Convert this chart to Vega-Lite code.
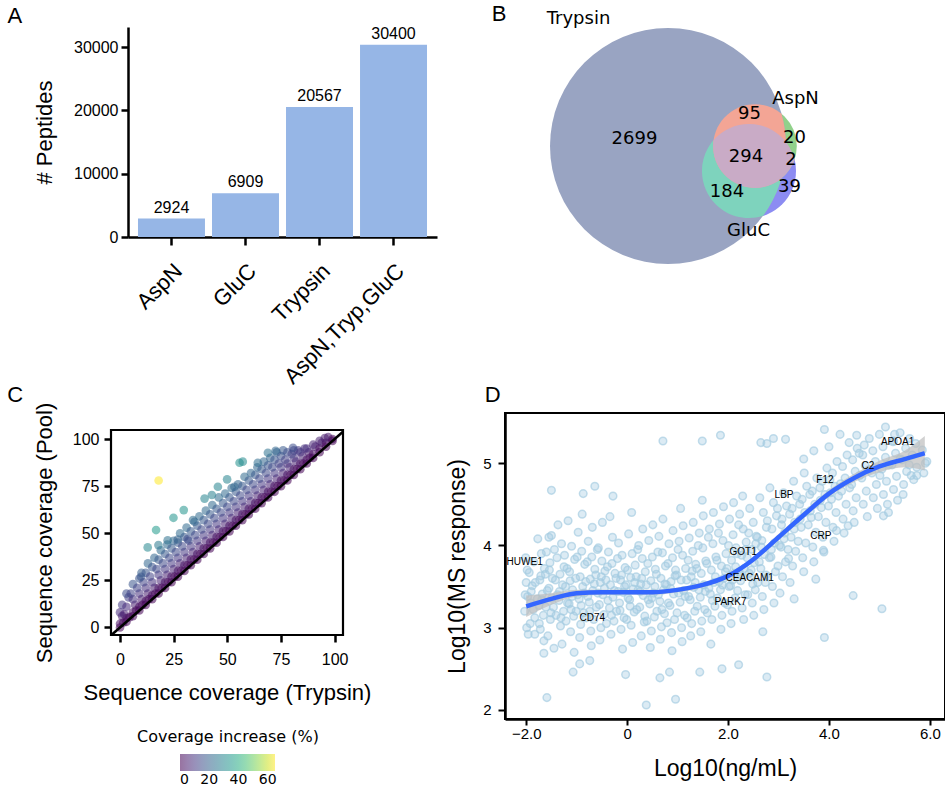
{
"$schema": "https://vega.github.io/schema/vega-lite/v6.json",
"background": "white",
"padding": {"left": 7, "top": 3, "right": 0, "bottom": 0},
"config": {
  "view": {"stroke": null},
  "font": "Liberation Sans",
  "axis": {"grid": false, "domain": true, "domainColor": "black", "tickColor": "black", "labelColor": "black", "titleColor": "black", "titleFontWeight": "normal", "labelFont": "Liberation Sans", "titleFont": "Liberation Sans", "labelOverlap": false},
  "title": {"font": "Liberation Sans", "fontWeight": "normal", "fontSize": 22, "color": "black"}
},
"datasets": {
  "venn": [
    {"set": "GluC", "x": 244, "y": 144, "n": 519},
    {"set": "AspN", "x": 250, "y": 119, "n": 411},
    {"set": "Trypsin", "x": 163, "y": 119, "n": 3272}
  ],
  "curve": [
    {"x": -2.0, "y": 3.26, "lo": 3.13, "hi": 3.39},
    {"x": -1.5, "y": 3.35, "lo": 3.28, "hi": 3.42},
    {"x": -1.0, "y": 3.42, "lo": 3.38, "hi": 3.46},
    {"x": -0.5, "y": 3.43, "lo": 3.40, "hi": 3.46},
    {"x": 0.0, "y": 3.43, "lo": 3.40, "hi": 3.46},
    {"x": 0.5, "y": 3.43, "lo": 3.40, "hi": 3.46},
    {"x": 1.0, "y": 3.46, "lo": 3.43, "hi": 3.49},
    {"x": 1.5, "y": 3.52, "lo": 3.49, "hi": 3.55},
    {"x": 2.0, "y": 3.63, "lo": 3.60, "hi": 3.66},
    {"x": 2.5, "y": 3.83, "lo": 3.80, "hi": 3.86},
    {"x": 3.0, "y": 4.10, "lo": 4.06, "hi": 4.14},
    {"x": 3.5, "y": 4.37, "lo": 4.33, "hi": 4.41},
    {"x": 4.0, "y": 4.63, "lo": 4.59, "hi": 4.67},
    {"x": 4.5, "y": 4.82, "lo": 4.77, "hi": 4.87},
    {"x": 5.0, "y": 4.96, "lo": 4.89, "hi": 5.03},
    {"x": 5.5, "y": 5.05, "lo": 4.95, "hi": 5.15},
    {"x": 5.9, "y": 5.12, "lo": 4.91, "hi": 5.33}
  ]
},
"spacing": 8,
"hconcat": [
  {
    "vconcat": [
      {
        "title": {"text": "A", "anchor": "start", "frame": "bounds", "dx": -26, "offset": -2},
        "width": 309, "height": 210,
        "data": {"values": [
          {"digest": "AspN", "n": 2924},
          {"digest": "GluC", "n": 6909},
          {"digest": "Trypsin", "n": 20567},
          {"digest": "AspN,Tryp,GluC", "n": 30400}
        ]},
        "encoding": {
          "x": {"field": "digest", "type": "nominal", "sort": null, "scale": {"paddingInner": 0.095, "paddingOuter": 0.135},
                "axis": {"title": null, "domain": true, "labelAngle": -45, "labelAlign": "right", "labelBaseline": "top", "labelFontSize": 22, "labelPadding": 15, "tickSize": 8, "tickWidth": 2.5, "domainWidth": 2.5, "labelLimit": 0}},
          "y": {"field": "n", "type": "quantitative", "scale": {"domain": [0, 33200], "nice": false, "zero": true},
                "axis": {"title": "# Peptides", "domain": true, "domainColor": "black", "titleFontSize": 22, "titlePadding": 17, "values": [0, 10000, 20000, 30000], "format": "d", "labelFontSize": 16, "tickSize": 7, "tickWidth": 2.5, "domainWidth": 2.5, "labelPadding": 3}}
        },
        "layer": [
          {"mark": {"type": "bar", "color": "#96B6E6"}},
          {"mark": {"type": "text", "baseline": "bottom", "dy": -3, "fontSize": 16, "color": "black"},
           "encoding": {"text": {"field": "n", "type": "quantitative", "format": "d"}}}
        ]
      },
      {
        "title": {"text": "C", "anchor": "start", "frame": "bounds", "dx": -26, "offset": -5},
        "width": 215, "height": 205,
        "layer": [
          {
            "data": {"values": [
              {"t":0,"p":0,"inc":0},{"t":0,"p":2,"inc":2},{"t":1,"p":6,"inc":5},{"t":0,"p":8,"inc":8},{"t":1,"p":12,"inc":11},
              {"t":3,"p":3,"inc":0},{"t":3,"p":5,"inc":2},{"t":2,"p":7,"inc":5},{"t":3,"p":11,"inc":8},{"t":4,"p":16,"inc":12},{"t":3,"p":18,"inc":15},
              {"t":6,"p":6,"inc":0},{"t":6,"p":8,"inc":2},{"t":7,"p":12,"inc":5},{"t":6,"p":15,"inc":9},{"t":5,"p":18,"inc":13},{"t":6,"p":23,"inc":17},
              {"t":9,"p":9,"inc":0},{"t":9,"p":11,"inc":2},{"t":10,"p":15,"inc":5},{"t":9,"p":18,"inc":9},{"t":8,"p":21,"inc":13},{"t":9,"p":26,"inc":17},{"t":10,"p":29,"inc":19},
              {"t":12,"p":12,"inc":0},{"t":12,"p":14,"inc":2},{"t":13,"p":18,"inc":5},{"t":12,"p":21,"inc":9},{"t":11,"p":24,"inc":13},{"t":12,"p":29,"inc":17},{"t":13,"p":34,"inc":21},
              {"t":15,"p":15,"inc":0},{"t":15,"p":17,"inc":2},{"t":16,"p":21,"inc":5},{"t":15,"p":24,"inc":9},{"t":14,"p":27,"inc":13},{"t":15,"p":32,"inc":17},{"t":16,"p":37,"inc":21},
              {"t":18,"p":18,"inc":0},{"t":18,"p":21,"inc":3},{"t":19,"p":25,"inc":6},{"t":18,"p":28,"inc":10},{"t":17,"p":31,"inc":14},{"t":18,"p":36,"inc":18},{"t":19,"p":41,"inc":22},
              {"t":21,"p":21,"inc":0},{"t":21,"p":24,"inc":3},{"t":22,"p":28,"inc":6},{"t":21,"p":31,"inc":10},{"t":20,"p":34,"inc":14},{"t":21,"p":39,"inc":18},{"t":22,"p":44,"inc":22},
              {"t":24,"p":24,"inc":0},{"t":24,"p":27,"inc":3},{"t":25,"p":31,"inc":6},{"t":24,"p":34,"inc":10},{"t":23,"p":37,"inc":14},{"t":24,"p":42,"inc":18},{"t":25,"p":46,"inc":21},
              {"t":27,"p":27,"inc":0},{"t":27,"p":30,"inc":3},{"t":28,"p":34,"inc":6},{"t":27,"p":37,"inc":10},{"t":26,"p":40,"inc":14},{"t":27,"p":45,"inc":18},{"t":28,"p":50,"inc":22},
              {"t":30,"p":30,"inc":0},{"t":30,"p":33,"inc":3},{"t":31,"p":37,"inc":6},{"t":30,"p":40,"inc":10},{"t":29,"p":43,"inc":14},{"t":30,"p":48,"inc":18},{"t":31,"p":53,"inc":22},
              {"t":33,"p":33,"inc":0},{"t":33,"p":36,"inc":3},{"t":34,"p":40,"inc":6},{"t":33,"p":43,"inc":10},{"t":32,"p":46,"inc":14},{"t":33,"p":51,"inc":18},{"t":34,"p":57,"inc":23},
              {"t":36,"p":36,"inc":0},{"t":36,"p":39,"inc":3},{"t":37,"p":43,"inc":6},{"t":36,"p":46,"inc":10},{"t":35,"p":49,"inc":14},{"t":36,"p":54,"inc":18},{"t":37,"p":59,"inc":22},
              {"t":39,"p":39,"inc":0},{"t":39,"p":42,"inc":3},{"t":40,"p":46,"inc":6},{"t":39,"p":49,"inc":10},{"t":38,"p":52,"inc":14},{"t":39,"p":57,"inc":18},{"t":40,"p":62,"inc":22},
              {"t":42,"p":42,"inc":0},{"t":42,"p":45,"inc":3},{"t":43,"p":49,"inc":6},{"t":42,"p":52,"inc":10},{"t":41,"p":55,"inc":14},{"t":42,"p":60,"inc":18},{"t":43,"p":65,"inc":22},
              {"t":45,"p":45,"inc":0},{"t":45,"p":48,"inc":3},{"t":46,"p":52,"inc":6},{"t":45,"p":55,"inc":10},{"t":44,"p":58,"inc":14},{"t":45,"p":63,"inc":18},{"t":46,"p":69,"inc":23},
              {"t":48,"p":48,"inc":0},{"t":48,"p":51,"inc":3},{"t":49,"p":55,"inc":6},{"t":48,"p":58,"inc":10},{"t":47,"p":61,"inc":14},{"t":48,"p":66,"inc":18},{"t":49,"p":71,"inc":22},
              {"t":51,"p":51,"inc":0},{"t":51,"p":54,"inc":3},{"t":52,"p":58,"inc":6},{"t":51,"p":61,"inc":10},{"t":50,"p":64,"inc":14},{"t":51,"p":69,"inc":18},{"t":52,"p":74,"inc":22},
              {"t":54,"p":54,"inc":0},{"t":54,"p":57,"inc":3},{"t":55,"p":61,"inc":6},{"t":54,"p":64,"inc":10},{"t":53,"p":67,"inc":14},{"t":54,"p":72,"inc":18},{"t":55,"p":76,"inc":21},
              {"t":57,"p":57,"inc":0},{"t":57,"p":60,"inc":3},{"t":58,"p":64,"inc":6},{"t":57,"p":67,"inc":10},{"t":56,"p":70,"inc":14},{"t":57,"p":75,"inc":18},{"t":58,"p":80,"inc":22},
              {"t":60,"p":60,"inc":0},{"t":60,"p":63,"inc":3},{"t":61,"p":67,"inc":6},{"t":60,"p":70,"inc":10},{"t":59,"p":73,"inc":14},{"t":60,"p":78,"inc":18},{"t":61,"p":82,"inc":21},
              {"t":63,"p":63,"inc":0},{"t":63,"p":66,"inc":3},{"t":64,"p":70,"inc":6},{"t":63,"p":73,"inc":10},{"t":62,"p":76,"inc":14},{"t":63,"p":81,"inc":18},{"t":64,"p":85,"inc":21},
              {"t":66,"p":66,"inc":0},{"t":66,"p":69,"inc":3},{"t":67,"p":73,"inc":6},{"t":66,"p":76,"inc":10},{"t":65,"p":79,"inc":14},{"t":66,"p":84,"inc":18},{"t":67,"p":88,"inc":21},
              {"t":69,"p":69,"inc":0},{"t":69,"p":72,"inc":3},{"t":70,"p":76,"inc":6},{"t":69,"p":79,"inc":10},{"t":68,"p":82,"inc":14},{"t":69,"p":86,"inc":17},{"t":70,"p":90,"inc":20},
              {"t":72,"p":72,"inc":0},{"t":72,"p":75,"inc":3},{"t":73,"p":79,"inc":6},{"t":72,"p":82,"inc":10},{"t":71,"p":85,"inc":14},{"t":72,"p":89,"inc":17},{"t":73,"p":93,"inc":20},
              {"t":75,"p":75,"inc":0},{"t":75,"p":78,"inc":3},{"t":76,"p":82,"inc":6},{"t":75,"p":85,"inc":10},{"t":74,"p":87,"inc":13},{"t":75,"p":91,"inc":16},{"t":76,"p":94,"inc":18},
              {"t":78,"p":78,"inc":0},{"t":78,"p":81,"inc":3},{"t":79,"p":85,"inc":6},{"t":78,"p":87,"inc":9},{"t":77,"p":89,"inc":12},{"t":78,"p":93,"inc":15},
              {"t":81,"p":81,"inc":0},{"t":81,"p":84,"inc":3},{"t":82,"p":88,"inc":6},{"t":81,"p":90,"inc":9},{"t":80,"p":92,"inc":12},{"t":81,"p":94,"inc":13},
              {"t":84,"p":84,"inc":0},{"t":84,"p":87,"inc":3},{"t":85,"p":91,"inc":6},{"t":84,"p":93,"inc":9},{"t":83,"p":94,"inc":11},
              {"t":87,"p":87,"inc":0},{"t":87,"p":89,"inc":2},{"t":88,"p":93,"inc":5},{"t":87,"p":95,"inc":8},{"t":86,"p":95,"inc":9},
              {"t":90,"p":90,"inc":0},{"t":90,"p":92,"inc":2},{"t":91,"p":96,"inc":5},{"t":90,"p":97,"inc":7},
              {"t":93,"p":93,"inc":0},{"t":93,"p":95,"inc":2},{"t":94,"p":98,"inc":4},{"t":93,"p":99,"inc":6},
              {"t":96,"p":96,"inc":0},{"t":96,"p":98,"inc":2},{"t":97,"p":101,"inc":4},
              {"t":99,"p":99,"inc":0},{"t":99,"p":100,"inc":1},
              {"t":1.5,"p":2.5,"inc":1},{"t":4.5,"p":5.5,"inc":1},{"t":7.5,"p":9,"inc":1},{"t":10.5,"p":12,"inc":1},{"t":13.5,"p":15,"inc":1},{"t":16.5,"p":18,"inc":1},
              {"t":19.5,"p":21,"inc":1},{"t":22.5,"p":24,"inc":1},{"t":25.5,"p":27,"inc":1},{"t":28.5,"p":30,"inc":1},{"t":31.5,"p":33,"inc":1},{"t":34.5,"p":36,"inc":1},
              {"t":37.5,"p":39,"inc":1},{"t":40.5,"p":42,"inc":1},{"t":43.5,"p":45,"inc":1},{"t":46.5,"p":48,"inc":1},{"t":49.5,"p":51,"inc":1},{"t":52.5,"p":54,"inc":1},
              {"t":55.5,"p":57,"inc":1},{"t":58.5,"p":60,"inc":1},{"t":61.5,"p":63,"inc":1},{"t":64.5,"p":66,"inc":1},{"t":67.5,"p":69,"inc":1},{"t":70.5,"p":72,"inc":1},
              {"t":73.5,"p":75,"inc":1},{"t":76.5,"p":78,"inc":1},{"t":79.5,"p":81,"inc":1},{"t":82.5,"p":84,"inc":1},{"t":85.5,"p":87,"inc":1},{"t":88.5,"p":90,"inc":1},
              {"t":55.7,"p":87.4,"inc":32},{"t":57.2,"p":88,"inc":31},{"t":49.9,"p":78.6,"inc":29},{"t":42.8,"p":70.3,"inc":28},
              {"t":39.4,"p":68.4,"inc":29},{"t":29.7,"p":62.3,"inc":33},{"t":24.9,"p":58.2,"inc":33},{"t":16.8,"p":51.7,"inc":35},
              {"t":12.9,"p":42.5,"inc":30},{"t":17.9,"p":43.7,"inc":26},{"t":22.2,"p":46.3,"inc":24},{"t":26.9,"p":46.7,"inc":20},
              {"t":31.5,"p":46.9,"inc":15},{"t":9.8,"p":26.9,"inc":17},{"t":34.7,"p":56.1,"inc":21},{"t":45.6,"p":74.7,"inc":29},
              {"t":53.3,"p":74.7,"inc":21},{"t":64.2,"p":87.4,"inc":23},{"t":68.9,"p":92.7,"inc":24},{"t":72.5,"p":93.8,"inc":21},
              {"t":80.6,"p":95.4,"inc":15},{"t":95.4,"p":100.5,"inc":5},
              {"t":18,"p":78,"inc":65}
            ]},
            "mark": {"type": "circle", "size": 75, "opacity": 0.55},
            "encoding": {
              "x": {"field": "t", "type": "quantitative", "scale": {"domain": [-4.2, 103.9], "range": [-17, 215], "nice": false, "zero": false},
                    "axis": {"title": "Sequence coverage (Trypsin)", "titleX": 99, "domain": false, "values": [0, 25, 50, 75, 100], "labelFontSize": 16, "titleFontSize": 22, "tickSize": 7, "tickWidth": 2.5, "labelPadding": 9, "titlePadding": 15}},
              "y": {"field": "p", "type": "quantitative", "scale": {"domain": [-4.0, 104.8], "nice": false, "zero": false},
                    "axis": {"title": "Sequence coverage (Pool)", "offset": 17, "domain": false, "values": [0, 25, 50, 75, 100], "labelFontSize": 16, "titleFontSize": 22, "tickSize": 7, "tickWidth": 2.5, "labelPadding": 5, "titlePadding": 16}},
              "color": {"field": "inc", "type": "quantitative", "scale": {"scheme": "viridis", "domain": [0, 65]},
                        "legend": {"orient": "none", "legendX": 9, "legendY": 299, "direction": "horizontal", "title": "Coverage increase (%)", "titleLimit": 400, "titleFont": "DejaVu Sans", "titleFontSize": 16, "titleFontWeight": "normal", "titleAnchor": "middle", "titleColor": "black", "labelFont": "DejaVu Sans", "labelFontSize": 14, "labelColor": "black", "gradientLength": 95, "gradientThickness": 17, "values": [0, 20, 40, 60], "gradientStrokeWidth": 0, "titlePadding": 9, "labelOffset": 2, "padding": 0}}
            }
          },
          {
            "data": {"values": [{"a": -4, "b": 104}]},
            "mark": {"type": "rule", "strokeWidth": 2.5, "color": "black"},
            "encoding": {
              "x": {"field": "a", "type": "quantitative"},
              "y": {"field": "a", "type": "quantitative"},
              "x2": {"field": "b"},
              "y2": {"field": "b"}
            }
          },
          {
            "data": {"values": [{"x1": -4.2, "x2": 103.9, "y1": -4.0, "y2": 104.8}]},
            "mark": {"type": "rect", "fillOpacity": 0, "stroke": "black", "strokeWidth": 2.2},
            "encoding": {
              "x": {"field": "x1", "type": "quantitative"},
              "x2": {"field": "x2"},
              "y": {"field": "y1", "type": "quantitative"},
              "y2": {"field": "y2"}
            }
          }
        ]
      }
    ],
    "spacing": -4,
    "resolve": {"scale": {"color": "independent"}, "legend": {"color": "independent"}}
  },
  {
    "vconcat": [
      {
        "title": {"text": "B", "orient": "left", "anchor": "end", "frame": "group", "angle": 0, "align": "right", "baseline": "top", "offset": 0, "dx": 16, "dy": -23},
        "width": 440, "height": 240,
        "encoding": {
          "x": {"field": "x", "type": "quantitative", "scale": {"domain": [0, 440], "nice": false, "zero": false}, "axis": null},
          "y": {"field": "y", "type": "quantitative", "scale": {"domain": [0, 240], "nice": false, "zero": false, "reverse": true}, "axis": null}
        },
        "layer": [
          {
            "data": {"name": "venn"},
            "mark": {"type": "point", "shape": "circle", "filled": true, "opacity": 1, "strokeWidth": 0},
            "encoding": {
              "size": {"field": "n", "type": "quantitative", "scale": {"type": "linear", "domain": [0, 3272], "range": [0, 55693], "zero": true}, "legend": null},
              "color": {"field": "set", "type": "nominal", "scale": {"domain": ["GluC", "AspN", "Trypsin"], "range": ["#8C8CF2", "#91D18B", "#99A4C2"]}, "legend": null}
            }
          },
          {
            "data": {"name": "venn"},
            "transform": [{"filter": "datum.set === 'GluC'"}],
            "mark": {"type": "point", "shape": "M 0.301 0.953 A 1 1 0 1 1 0.786 -0.618 A 2.511 2.511 0 0 1 0.301 0.953 Z", "filled": true, "color": "#7ED3BD", "opacity": 1, "strokeWidth": 0},
            "encoding": {"size": {"field": "n", "type": "quantitative", "legend": null}}
          },
          {
            "data": {"name": "venn"},
            "transform": [{"filter": "datum.set === 'AspN'"}],
            "mark": {"type": "point", "shape": "M 0.634 0.773 A 1 1 0 1 1 0.634 -0.773 A 2.823 2.823 0 0 1 0.634 0.773 Z", "filled": true, "color": "#F3A595", "opacity": 1, "strokeWidth": 0},
            "encoding": {"size": {"field": "n", "type": "quantitative", "legend": null}}
          },
          {
            "data": {"name": "venn"},
            "transform": [{"filter": "datum.set === 'AspN'"}],
            "mark": {"type": "point", "shape": "M -0.990 -0.142 A 1 1 0 0 0 0.947 0.322 A 1.124 1.124 0 0 0 -0.990 -0.142 Z", "filled": true, "color": "#C9ABC6", "opacity": 1, "strokeWidth": 0},
            "encoding": {"size": {"field": "n", "type": "quantitative", "legend": null}}
          },
          {
            "data": {"values": [
              {"t": "Trypsin", "x": 73.5, "y": -8.5},
              {"t": "AspN", "x": 290.5, "y": 71.5},
              {"t": "GluC", "x": 243.5, "y": 203.5},
              {"t": "2699", "x": 129.5, "y": 112},
              {"t": "95", "x": 244.5, "y": 86.5},
              {"t": "20", "x": 289.5, "y": 111},
              {"t": "294", "x": 241, "y": 130},
              {"t": "2", "x": 286, "y": 132.5},
              {"t": "39", "x": 284.5, "y": 159.5},
              {"t": "184", "x": 222, "y": 164.5}
            ]},
            "mark": {"type": "text", "font": "DejaVu Sans", "fontSize": 18, "color": "black"},
            "encoding": {"text": {"field": "t", "type": "nominal"}}
          }
        ]
      },
      {
        "title": {"text": "D", "anchor": "start", "frame": "bounds", "dx": 38, "offset": 6},
        "width": 440, "height": 306,
        "view": {"stroke": "black", "strokeWidth": 2},
        "encoding": {
          "x": {"field": "x", "type": "quantitative", "scale": {"domain": [-2.42, 6.3], "nice": false, "zero": false},
                "axis": {"title": "Log10(ng/mL)", "domain": true, "values": [-2, 0, 2, 4, 6], "labelExpr": "datum.value == 0 ? '0' : format(datum.value, '.1f')", "labelFontSize": 15, "titleFontSize": 23, "tickSize": 6, "tickWidth": 2, "domainWidth": 2.5, "labelPadding": 1, "titlePadding": 16}},
          "y": {"field": "y", "type": "quantitative", "scale": {"domain": [1.89, 5.61], "nice": false, "zero": false},
                "axis": {"title": "Log10(MS response)", "domain": true, "values": [2, 3, 4, 5], "labelFontSize": 15, "titleFontSize": 23, "tickSize": 7, "tickWidth": 2, "domainWidth": 2.5, "labelPadding": 7, "titlePadding": 13}}
        },
        "layer": [
          {
            "data": {"values": [
              {"x":-1.92,"y":3.05},{"x":-1.86,"y":3.22},{"x":-1.97,"y":3.38},{"x":-1.88,"y":3.51},{"x":-1.94,"y":3.67},{"x":-1.83,"y":3.12},{"x":-1.9,"y":3.44},{"x":-1.96,"y":2.92},{"x":-1.85,"y":3.80},{"x":-1.91,"y":3.30},
              {"x":-2.02,"y":3.40},{"x":-2.0,"y":3.55},{"x":-1.98,"y":3.70},{"x":-2.03,"y":3.20},{"x":-1.99,"y":3.00},{"x":-2.01,"y":3.85},
              {"x":-1.72,"y":2.98},{"x":-1.66,"y":3.15},{"x":-1.75,"y":3.27},{"x":-1.68,"y":3.41},{"x":-1.73,"y":3.58},{"x":-1.64,"y":3.72},{"x":-1.7,"y":3.90},{"x":-1.77,"y":4.08},{"x":-1.69,"y":3.34},{"x":-1.74,"y":3.05},{"x":-1.65,"y":2.84},{"x":-1.71,"y":3.63},
              {"x":-1.52,"y":3.10},{"x":-1.46,"y":3.25},{"x":-1.55,"y":3.48},{"x":-1.48,"y":3.60},{"x":-1.53,"y":3.79},{"x":-1.44,"y":3.95},{"x":-1.5,"y":4.12},{"x":-1.57,"y":2.90},{"x":-1.49,"y":3.36},{"x":-1.54,"y":3.70},{"x":-1.45,"y":2.75},{"x":-1.51,"y":3.18},
              {"x":-1.32,"y":3.02},{"x":-1.26,"y":3.20},{"x":-1.35,"y":3.33},{"x":-1.28,"y":3.52},{"x":-1.33,"y":3.65},{"x":-1.24,"y":3.88},{"x":-1.3,"y":4.02},{"x":-1.37,"y":4.25},{"x":-1.29,"y":2.80},{"x":-1.34,"y":3.44},{"x":-1.25,"y":3.74},{"x":-1.31,"y":3.12},
              {"x":-1.12,"y":2.95},{"x":-1.06,"y":3.14},{"x":-1.15,"y":3.29},{"x":-1.08,"y":3.46},{"x":-1.13,"y":3.57},{"x":-1.04,"y":3.83},{"x":-1.1,"y":3.99},{"x":-1.17,"y":4.30},{"x":-1.09,"y":3.38},{"x":-1.14,"y":3.68},{"x":-1.05,"y":2.70},{"x":-1.11,"y":3.22},
              {"x":-0.92,"y":3.04},{"x":-0.86,"y":3.18},{"x":-0.95,"y":3.35},{"x":-0.88,"y":3.50},{"x":-0.93,"y":3.62},{"x":-0.84,"y":3.77},{"x":-0.9,"y":3.93},{"x":-0.97,"y":4.16},{"x":-0.89,"y":4.38},{"x":-0.94,"y":2.88},{"x":-0.85,"y":3.42},{"x":-0.91,"y":3.27},
              {"x":-0.72,"y":2.96},{"x":-0.66,"y":3.10},{"x":-0.75,"y":3.31},{"x":-0.68,"y":3.45},{"x":-0.73,"y":3.59},{"x":-0.64,"y":3.71},{"x":-0.7,"y":3.86},{"x":-0.77,"y":4.05},{"x":-0.69,"y":4.22},{"x":-0.74,"y":3.20},{"x":-0.65,"y":3.53},{"x":-0.71,"y":2.78},
              {"x":-0.52,"y":3.00},{"x":-0.46,"y":3.16},{"x":-0.55,"y":3.28},{"x":-0.48,"y":3.40},{"x":-0.53,"y":3.55},{"x":-0.44,"y":3.69},{"x":-0.5,"y":3.81},{"x":-0.57,"y":3.97},{"x":-0.49,"y":4.28},{"x":-0.54,"y":2.85},{"x":-0.45,"y":3.48},{"x":-0.51,"y":3.62},
              {"x":-0.32,"y":2.92},{"x":-0.26,"y":3.08},{"x":-0.35,"y":3.24},{"x":-0.28,"y":3.37},{"x":-0.33,"y":3.52},{"x":-0.24,"y":3.66},{"x":-0.3,"y":3.78},{"x":-0.37,"y":3.92},{"x":-0.29,"y":4.10},{"x":-0.34,"y":4.35},{"x":-0.25,"y":3.45},{"x":-0.31,"y":3.15},
              {"x":-0.12,"y":2.98},{"x":-0.06,"y":3.12},{"x":-0.15,"y":3.30},{"x":-0.08,"y":3.43},{"x":-0.13,"y":3.58},{"x":-0.04,"y":3.73},{"x":-0.1,"y":3.88},{"x":-0.17,"y":4.03},{"x":-0.09,"y":2.74},{"x":-0.14,"y":3.21},{"x":-0.05,"y":3.50},{"x":-0.11,"y":3.64},
              {"x":0.08,"y":3.03},{"x":0.14,"y":3.19},{"x":0.05,"y":3.34},{"x":0.12,"y":3.47},{"x":0.07,"y":3.61},{"x":0.16,"y":3.76},{"x":0.1,"y":3.90},{"x":0.03,"y":4.14},{"x":0.11,"y":2.82},{"x":0.06,"y":3.26},{"x":0.15,"y":3.55},{"x":0.09,"y":4.40},
              {"x":0.28,"y":2.90},{"x":0.34,"y":3.07},{"x":0.25,"y":3.25},{"x":0.32,"y":3.39},{"x":0.27,"y":3.53},{"x":0.36,"y":3.68},{"x":0.3,"y":3.84},{"x":0.23,"y":4.00},{"x":0.31,"y":4.20},{"x":0.26,"y":3.44},{"x":0.35,"y":3.14},{"x":0.29,"y":3.60},
              {"x":0.48,"y":2.96},{"x":0.54,"y":3.13},{"x":0.45,"y":3.29},{"x":0.52,"y":3.42},{"x":0.47,"y":3.57},{"x":0.56,"y":3.71},{"x":0.5,"y":3.86},{"x":0.43,"y":4.06},{"x":0.51,"y":4.25},{"x":0.46,"y":2.76},{"x":0.55,"y":3.50},{"x":0.49,"y":3.36},
              {"x":0.68,"y":3.01},{"x":0.74,"y":3.17},{"x":0.65,"y":3.32},{"x":0.72,"y":3.46},{"x":0.67,"y":3.60},{"x":0.76,"y":3.75},{"x":0.7,"y":3.91},{"x":0.63,"y":4.11},{"x":0.71,"y":4.32},{"x":0.66,"y":2.86},{"x":0.75,"y":3.53},{"x":0.69,"y":3.22},
              {"x":0.88,"y":2.94},{"x":0.94,"y":3.10},{"x":0.85,"y":3.27},{"x":0.92,"y":3.41},{"x":0.87,"y":3.56},{"x":0.96,"y":3.70},{"x":0.9,"y":3.85},{"x":0.83,"y":4.02},{"x":0.91,"y":4.18},{"x":0.86,"y":3.48},{"x":0.95,"y":3.63},{"x":0.89,"y":2.72},
              {"x":1.08,"y":3.00},{"x":1.14,"y":3.15},{"x":1.05,"y":3.31},{"x":1.12,"y":3.45},{"x":1.07,"y":3.58},{"x":1.16,"y":3.72},{"x":1.1,"y":3.88},{"x":1.03,"y":4.05},{"x":1.11,"y":4.24},{"x":1.06,"y":4.45},{"x":1.15,"y":3.38},{"x":1.09,"y":2.83},
              {"x":1.28,"y":3.05},{"x":1.34,"y":3.20},{"x":1.25,"y":3.34},{"x":1.32,"y":3.49},{"x":1.27,"y":3.62},{"x":1.36,"y":3.77},{"x":1.3,"y":3.93},{"x":1.23,"y":4.09},{"x":1.31,"y":4.28},{"x":1.26,"y":2.90},{"x":1.35,"y":3.55},{"x":1.29,"y":3.69},
              {"x":1.48,"y":3.08},{"x":1.54,"y":3.22},{"x":1.45,"y":3.37},{"x":1.52,"y":3.52},{"x":1.47,"y":3.66},{"x":1.56,"y":3.81},{"x":1.5,"y":3.97},{"x":1.43,"y":4.15},{"x":1.51,"y":4.36},{"x":1.46,"y":2.95},{"x":1.55,"y":3.44},{"x":1.49,"y":4.55},
              {"x":1.68,"y":3.10},{"x":1.74,"y":3.26},{"x":1.65,"y":3.41},{"x":1.72,"y":3.55},{"x":1.67,"y":3.70},{"x":1.76,"y":3.86},{"x":1.7,"y":4.02},{"x":1.63,"y":4.20},{"x":1.71,"y":4.40},{"x":1.66,"y":2.80},{"x":1.75,"y":3.62},{"x":1.69,"y":3.33},
              {"x":1.88,"y":3.15},{"x":1.94,"y":3.30},{"x":1.85,"y":3.46},{"x":1.92,"y":3.60},{"x":1.87,"y":3.75},{"x":1.96,"y":3.90},{"x":1.9,"y":4.06},{"x":1.83,"y":4.26},{"x":1.91,"y":4.47},{"x":1.86,"y":2.98},{"x":1.95,"y":3.68},{"x":1.89,"y":3.52},
              {"x":2.08,"y":3.20},{"x":2.14,"y":3.36},{"x":2.05,"y":3.51},{"x":2.12,"y":3.66},{"x":2.07,"y":3.82},{"x":2.16,"y":3.97},{"x":2.1,"y":4.13},{"x":2.03,"y":4.32},{"x":2.11,"y":4.52},{"x":2.06,"y":3.05},{"x":2.15,"y":3.74},{"x":2.09,"y":3.58},
              {"x":2.28,"y":3.24},{"x":2.34,"y":3.40},{"x":2.25,"y":3.57},{"x":2.32,"y":3.72},{"x":2.27,"y":3.88},{"x":2.36,"y":4.04},{"x":2.3,"y":4.20},{"x":2.23,"y":4.38},{"x":2.31,"y":3.10},{"x":2.26,"y":3.63},{"x":2.35,"y":3.95},{"x":2.29,"y":4.60},
              {"x":2.48,"y":3.30},{"x":2.54,"y":3.46},{"x":2.45,"y":3.62},{"x":2.52,"y":3.79},{"x":2.47,"y":3.95},{"x":2.56,"y":4.11},{"x":2.5,"y":4.28},{"x":2.43,"y":4.45},{"x":2.51,"y":3.15},{"x":2.46,"y":3.70},{"x":2.55,"y":4.02},{"x":2.49,"y":3.53},
              {"x":2.68,"y":3.38},{"x":2.74,"y":3.55},{"x":2.65,"y":3.72},{"x":2.72,"y":3.89},{"x":2.67,"y":4.06},{"x":2.76,"y":4.22},{"x":2.7,"y":4.40},{"x":2.63,"y":4.58},{"x":2.71,"y":3.22},{"x":2.66,"y":3.98},{"x":2.75,"y":3.64},{"x":2.69,"y":2.95},
              {"x":2.88,"y":3.50},{"x":2.94,"y":3.68},{"x":2.85,"y":3.86},{"x":2.92,"y":4.03},{"x":2.87,"y":4.20},{"x":2.96,"y":4.36},{"x":2.9,"y":4.52},{"x":2.83,"y":4.70},{"x":2.91,"y":3.30},{"x":2.86,"y":3.95},
              {"x":3.08,"y":3.62},{"x":3.14,"y":3.80},{"x":3.05,"y":3.98},{"x":3.12,"y":4.15},{"x":3.07,"y":4.32},{"x":3.16,"y":4.48},{"x":3.1,"y":4.64},{"x":3.03,"y":3.42},{"x":3.11,"y":4.08},{"x":3.06,"y":4.25},
              {"x":3.28,"y":3.75},{"x":3.34,"y":3.93},{"x":3.25,"y":4.10},{"x":3.32,"y":4.28},{"x":3.27,"y":4.45},{"x":3.36,"y":4.60},{"x":3.3,"y":4.78},{"x":3.23,"y":3.55},{"x":3.31,"y":4.20},
              {"x":3.48,"y":3.85},{"x":3.54,"y":4.03},{"x":3.45,"y":4.22},{"x":3.52,"y":4.40},{"x":3.47,"y":4.56},{"x":3.56,"y":4.72},{"x":3.5,"y":3.68},{"x":3.43,"y":4.32},{"x":3.51,"y":4.88},
              {"x":3.68,"y":3.98},{"x":3.74,"y":4.16},{"x":3.65,"y":4.34},{"x":3.72,"y":4.50},{"x":3.67,"y":4.66},{"x":3.76,"y":4.82},{"x":3.7,"y":3.80},{"x":3.63,"y":4.42},
              {"x":3.88,"y":4.10},{"x":3.94,"y":4.28},{"x":3.85,"y":4.46},{"x":3.92,"y":4.62},{"x":3.87,"y":4.78},{"x":3.96,"y":4.94},{"x":3.9,"y":3.92},{"x":3.83,"y":4.55},
              {"x":4.08,"y":4.22},{"x":4.14,"y":4.40},{"x":4.05,"y":4.56},{"x":4.12,"y":4.72},{"x":4.07,"y":4.88},{"x":4.16,"y":5.02},{"x":4.1,"y":4.05},{"x":4.03,"y":4.64},
              {"x":4.28,"y":4.32},{"x":4.34,"y":4.50},{"x":4.25,"y":4.66},{"x":4.32,"y":4.82},{"x":4.27,"y":4.96},{"x":4.36,"y":5.10},{"x":4.3,"y":4.15},{"x":4.23,"y":4.75},
              {"x":4.48,"y":4.42},{"x":4.54,"y":4.58},{"x":4.45,"y":4.74},{"x":4.52,"y":4.90},{"x":4.47,"y":5.04},{"x":4.56,"y":5.18},{"x":4.5,"y":4.28},
              {"x":4.68,"y":4.50},{"x":4.74,"y":4.66},{"x":4.65,"y":4.82},{"x":4.72,"y":4.97},{"x":4.67,"y":5.10},{"x":4.76,"y":4.35},{"x":4.7,"y":5.22},
              {"x":4.88,"y":4.58},{"x":4.94,"y":4.74},{"x":4.85,"y":4.88},{"x":4.92,"y":5.02},{"x":4.87,"y":5.15},{"x":4.96,"y":4.45},
              {"x":5.08,"y":4.62},{"x":5.14,"y":4.78},{"x":5.05,"y":4.93},{"x":5.12,"y":5.07},{"x":5.07,"y":5.20},{"x":5.16,"y":4.50},
              {"x":5.28,"y":4.68},{"x":5.34,"y":4.84},{"x":5.25,"y":4.98},{"x":5.32,"y":5.12},{"x":5.27,"y":5.26},{"x":5.36,"y":4.55},
              {"x":5.48,"y":4.74},{"x":5.54,"y":4.90},{"x":5.45,"y":5.04},{"x":5.52,"y":5.18},{"x":5.47,"y":4.62},
              {"x":5.68,"y":4.80},{"x":5.74,"y":4.95},{"x":5.65,"y":5.10},{"x":5.72,"y":5.24},
              {"x":5.88,"y":4.88},{"x":5.94,"y":5.02},{"x":5.85,"y":5.16},
              {"x":-1.59,"y":2.15},{"x":0.38,"y":2.06},{"x":0.96,"y":2.13},{"x":0.71,"y":5.27},{"x":1.49,"y":5.27},{"x":1.85,"y":5.34},
              {"x":2.65,"y":5.25},{"x":2.77,"y":5.24},{"x":2.90,"y":5.30},{"x":3.14,"y":5.29},{"x":3.91,"y":5.41},{"x":4.22,"y":5.35},
              {"x":4.55,"y":5.34},{"x":5.12,"y":5.44},{"x":5.41,"y":5.37},{"x":5.28,"y":5.27},{"x":-1.50,"y":4.67},{"x":-0.64,"y":4.72},
              {"x":-0.87,"y":4.63},{"x":-0.28,"y":4.60},{"x":4.48,"y":3.39},{"x":5.05,"y":3.23},{"x":3.91,"y":2.88},{"x":3.74,"y":3.59},
              {"x":3.31,"y":3.35},{"x":2.77,"y":2.40},{"x":2.21,"y":2.55},{"x":1.88,"y":2.50},{"x":1.44,"y":2.46},{"x":0.65,"y":2.39},
              {"x":0.84,"y":2.46},{"x":-0.03,"y":2.43},{"x":-1.07,"y":2.46},{"x":-0.94,"y":2.56},{"x":-0.74,"y":2.60},{"x":-1.65,"y":2.69},
              {"x":-1.83,"y":2.92},{"x":5.63,"y":4.85},{"x":5.74,"y":4.85},{"x":5.91,"y":5.00},{"x":5.18,"y":4.40},{"x":5.08,"y":4.36},
              {"x":4.38,"y":4.24},{"x":4.15,"y":4.18},{"x":3.89,"y":3.94},{"x":3.20,"y":3.84},
              {"x":3.5,"y":5.05},{"x":3.7,"y":5.15},{"x":4.0,"y":5.2},{"x":4.4,"y":5.25},{"x":4.8,"y":5.3},{"x":5.0,"y":5.35},{"x":5.3,"y":5.35},{"x":5.6,"y":5.3},{"x":4.6,"y":5.12},
              {"x":-1.55,"y":4.10},{"x":-1.6,"y":3.92},
              {"x":-1.78,"y":3.35},{"x":-1.82,"y":3.55},{"x":-1.61,"y":3.25},{"x":-1.58,"y":3.45},{"x":-1.62,"y":3.65},{"x":-1.41,"y":3.15},{"x":-1.38,"y":3.40},{"x":-1.42,"y":3.58},{"x":-1.39,"y":3.85},
              {"x":-1.21,"y":3.08},{"x":-1.18,"y":3.30},{"x":-1.22,"y":3.50},{"x":-1.19,"y":3.72},{"x":-1.01,"y":3.20},{"x":-0.98,"y":3.40},{"x":-1.02,"y":3.60},{"x":-0.99,"y":3.86},
              {"x":-0.81,"y":3.12},{"x":-0.78,"y":3.38},{"x":-0.82,"y":3.56},{"x":-0.79,"y":3.80},{"x":-0.61,"y":3.25},{"x":-0.58,"y":3.42},{"x":-0.62,"y":3.64},{"x":-0.59,"y":3.95},
              {"x":-0.41,"y":3.05},{"x":-0.38,"y":3.33},{"x":-0.42,"y":3.58},{"x":-0.39,"y":3.74},{"x":-0.21,"y":3.20},{"x":-0.18,"y":3.44},{"x":-0.22,"y":3.60},{"x":-0.19,"y":3.84},
              {"x":-0.01,"y":3.10},{"x":0.02,"y":3.36},{"x":-0.02,"y":3.52},{"x":0.01,"y":3.70},{"x":0.19,"y":3.22},{"x":0.22,"y":3.46},{"x":0.18,"y":3.62},{"x":0.21,"y":3.95},
              {"x":0.39,"y":3.08},{"x":0.42,"y":3.34},{"x":0.38,"y":3.52},{"x":0.41,"y":3.78},{"x":0.59,"y":3.20},{"x":0.62,"y":3.40},{"x":0.58,"y":3.65},{"x":0.61,"y":3.92},
              {"x":0.79,"y":3.06},{"x":0.82,"y":3.30},{"x":0.78,"y":3.52},{"x":0.81,"y":3.78},{"x":0.99,"y":3.18},{"x":1.02,"y":3.42},{"x":0.98,"y":3.64},{"x":1.01,"y":3.95},
              {"x":1.19,"y":3.12},{"x":1.22,"y":3.38},{"x":1.18,"y":3.58},{"x":1.21,"y":3.82},{"x":1.39,"y":3.26},{"x":1.42,"y":3.46},{"x":1.38,"y":3.72},{"x":1.41,"y":4.00},
              {"x":1.59,"y":3.18},{"x":1.62,"y":3.48},{"x":1.58,"y":3.78},{"x":1.61,"y":4.10},{"x":1.79,"y":3.36},{"x":1.82,"y":3.56},{"x":1.78,"y":3.82},{"x":1.81,"y":4.15},
              {"x":1.99,"y":3.28},{"x":2.02,"y":3.50},{"x":1.98,"y":3.72},{"x":2.01,"y":4.00},{"x":2.19,"y":3.45},{"x":2.22,"y":3.68},{"x":2.18,"y":3.90},{"x":2.21,"y":4.25},
              {"x":2.39,"y":3.40},{"x":2.42,"y":3.66},{"x":2.38,"y":3.85},{"x":2.41,"y":4.15},{"x":2.59,"y":3.55},{"x":2.62,"y":3.80},{"x":2.58,"y":4.10},
              {"x":2.79,"y":3.62},{"x":2.82,"y":3.85},{"x":2.78,"y":4.30},{"x":2.99,"y":3.75},{"x":3.02,"y":4.00},{"x":2.98,"y":4.45},{"x":3.19,"y":3.95},{"x":3.22,"y":4.38},
              {"x":3.39,"y":4.05},{"x":3.42,"y":4.50},{"x":3.59,"y":4.25},{"x":3.62,"y":4.62},{"x":3.79,"y":4.35},{"x":3.82,"y":4.70},{"x":3.99,"y":4.48},{"x":4.02,"y":4.80},
              {"x":4.19,"y":4.60},{"x":4.41,"y":4.70},{"x":4.61,"y":4.85},{"x":4.79,"y":4.92},{"x":5.01,"y":4.85},{"x":5.19,"y":4.98},{"x":5.41,"y":5.05},{"x":5.59,"y":4.98}
            ]},
            "mark": {"type": "point", "filled": true, "size": 58, "fill": "#A3CBE1", "fillOpacity": 0.38, "stroke": "#A3CBE1", "strokeOpacity": 0.65, "strokeWidth": 1.5}
          },
          {
            "data": {"name": "curve"},
            "mark": {"type": "area", "color": "#BDBDBD", "opacity": 0.7, "interpolate": "monotone"},
            "encoding": {
              "y": {"field": "lo", "type": "quantitative"},
              "y2": {"field": "hi"}
            }
          },
          {
            "data": {"name": "curve"},
            "mark": {"type": "line", "color": "#3366FF", "strokeWidth": 4.5, "interpolate": "monotone"}
          },
          {
            "data": {"values": [
              {"x": 5.36, "y": 5.255, "g": "APOA1"},
              {"x": 4.77, "y": 4.96, "g": "C2"},
              {"x": 3.92, "y": 4.79, "g": "F12"},
              {"x": 3.11, "y": 4.61, "g": "LBP"},
              {"x": 3.84, "y": 4.11, "g": "CRP"},
              {"x": 2.30, "y": 3.92, "g": "GOT1"},
              {"x": 2.43, "y": 3.60, "g": "CEACAM1"},
              {"x": 2.05, "y": 3.31, "g": "PARK7"},
              {"x": -0.69, "y": 3.12, "g": "CD74"},
              {"x": -2.03, "y": 3.80, "g": "HUWE1"}
            ]},
            "mark": {"type": "text", "fontSize": 10, "color": "black", "font": "Liberation Sans"},
            "encoding": {"text": {"field": "g", "type": "nominal"}}
          }
        ]
      }
    ],
    "spacing": 116
  }
]
}
